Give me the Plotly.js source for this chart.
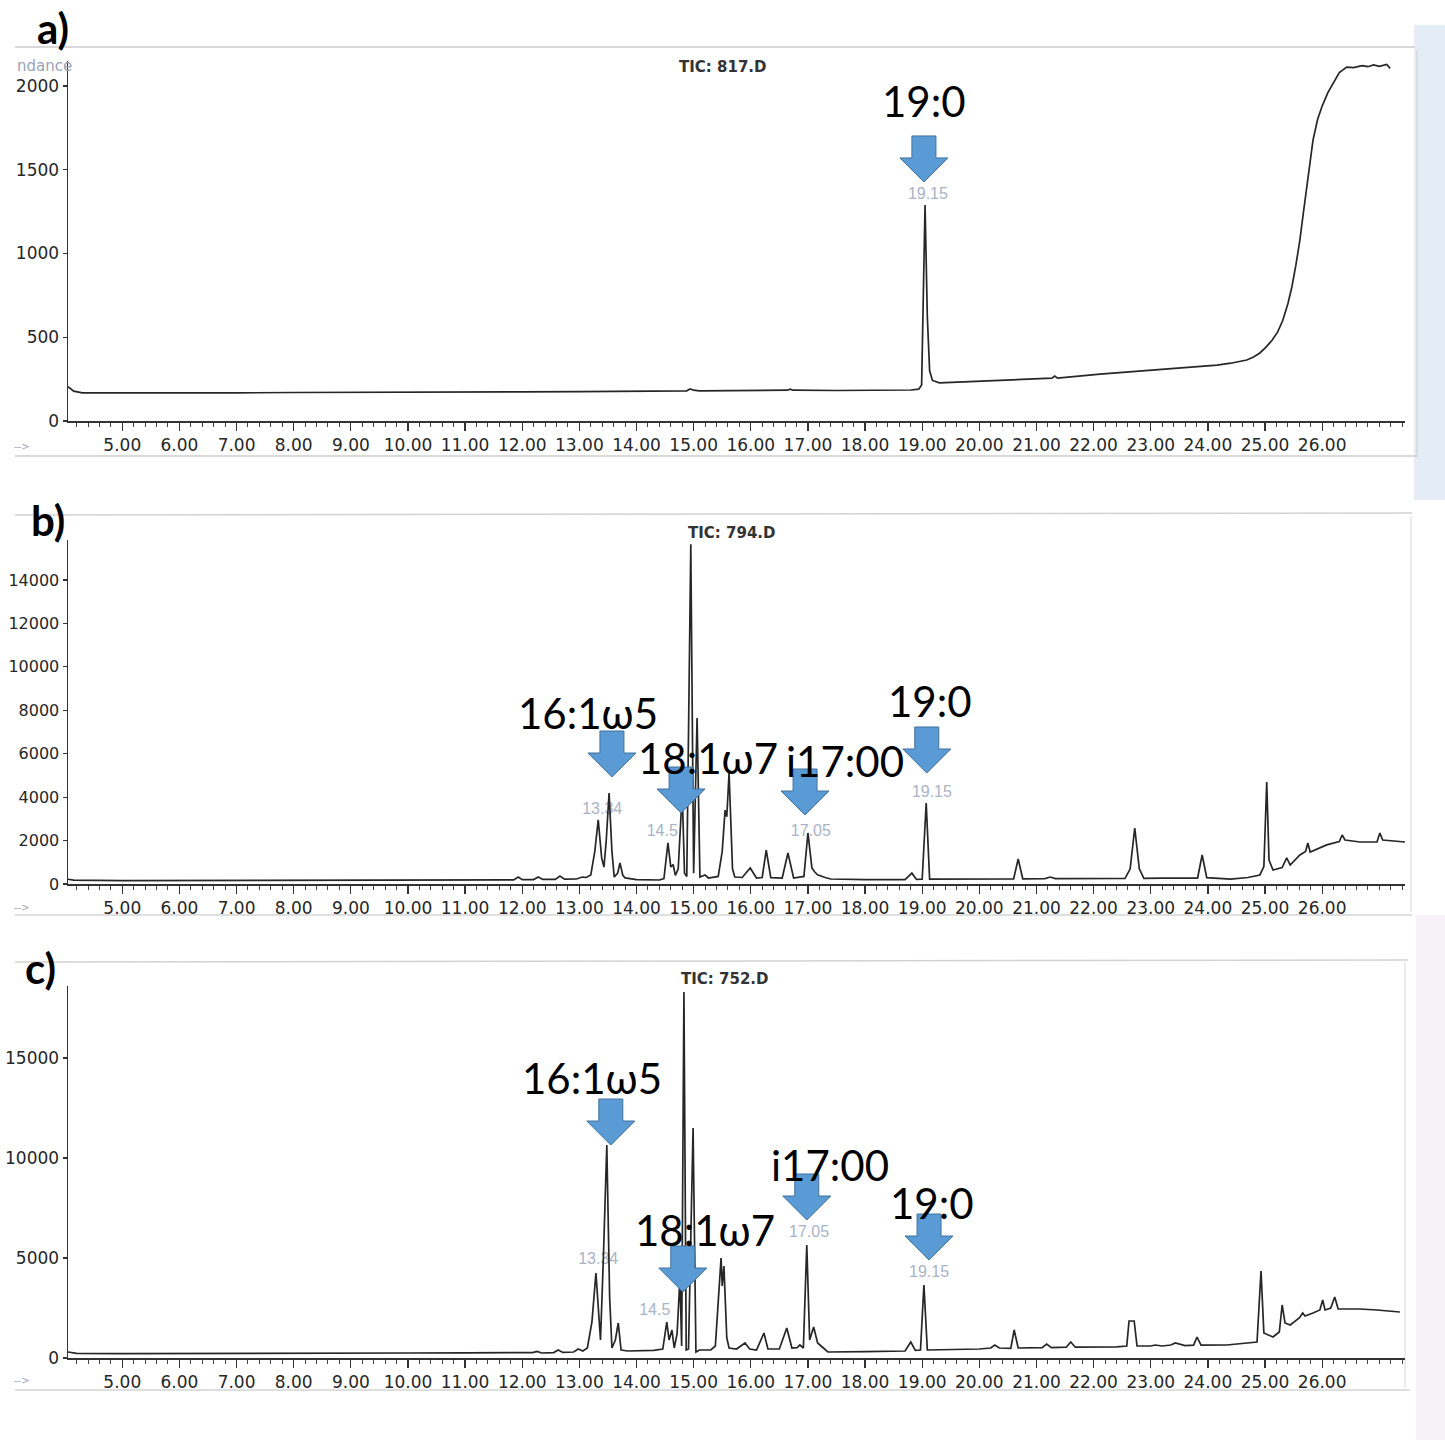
<!DOCTYPE html>
<html>
<head>
<meta charset="utf-8">
<script src="https://cdn.plot.ly/plotly-3.0.1.min.js"></script>
<style>html,body{margin:0;padding:0;background:#fff;}#chart{width:1445px;height:1440px;}</style>
</head>
<body>
<div id="chart"></div>
<script>
// ---------- DATA ----------
// [retention time (min), abundance]
const pointsA = [[4.05,205],[4.15,178],[4.3,168],[5,167],[6,168],[7,168],[8,170],[9,170],[10,172],[11,172],[12,174],[13,175],[14,178],[14.88,180],[14.94,192],[15.0,184],[15.1,180],[16,182],[16.64,184],[16.69,190],[16.74,184],[17.5,182],[18,183],[18.8,185],[18.94,190],[18.99,215],[19.05,1290],[19.09,620],[19.13,300],[19.18,242],[19.3,228],[20,238],[20.36,245],[21,250],[21.27,256],[21.32,268],[21.37,256],[22.11,280],[22.6,292],[23.11,304],[23.6,318],[24.16,334],[24.4,345],[24.68,364],[24.8,382],[24.91,406],[25.0,435],[25.12,480],[25.22,530],[25.31,600],[25.4,700],[25.47,800],[25.54,930],[25.61,1080],[25.67,1240],[25.73,1400],[25.79,1550],[25.84,1677],[25.92,1800],[26.0,1880],[26.1,1960],[26.19,2018],[26.3,2080],[26.43,2113],[26.55,2110],[26.7,2121],[26.8,2115],[26.9,2126],[27.0,2117],[27.13,2128],[27.19,2105]];

const pointsB = [[4.05,220],[4.15,180],[5,160],[6,162],[7,165],[8,166],[9,170],[10,170],[11,175],[11.6,180],[11.85,190],[11.93,320],[12.0,200],[12.2,205],[12.28,320],[12.36,210],[12.58,215],[12.66,370],[12.74,225],[12.95,230],[13.05,320],[13.12,300],[13.2,415],[13.27,1500],[13.33,2950],[13.39,1200],[13.43,780],[13.47,2000],[13.52,4190],[13.57,1500],[13.61,320],[13.67,500],[13.71,970],[13.76,400],[13.8,280],[14.0,200],[14.4,184],[14.48,250],[14.55,1890],[14.6,780],[14.64,900],[14.68,400],[14.73,700],[14.8,4200],[14.84,500],[14.88,350],[14.95,15650],[15.0,500],[15.06,7640],[15.11,320],[15.2,415],[15.26,276],[15.35,300],[15.43,350],[15.5,1500],[15.55,3400],[15.58,3100],[15.62,5110],[15.68,700],[15.72,320],[15.85,300],[15.99,740],[16.1,276],[16.2,300],[16.27,1565],[16.35,290],[16.55,276],[16.65,1430],[16.75,276],[16.93,350],[17.0,2350],[17.07,740],[17.12,550],[17.17,420],[17.3,300],[17.4,230],[18.0,200],[18.7,200],[18.82,500],[18.9,210],[19.0,220],[19.07,3730],[19.13,220],[19.5,215],[20.0,220],[20.6,230],[20.68,1150],[20.76,240],[21.15,250],[21.24,320],[21.33,250],[22.0,250],[22.55,260],[22.64,700],[22.72,2580],[22.8,700],[22.88,260],[23.2,270],[23.5,260],[23.82,275],[23.9,1335],[23.98,290],[24.4,220],[24.7,300],[24.91,415],[24.98,800],[25.03,4700],[25.07,1105],[25.14,645],[25.3,760],[25.38,1200],[25.44,875],[25.61,1335],[25.71,1500],[25.75,1890],[25.79,1475],[26.08,1800],[26.3,1950],[26.35,2256],[26.4,2026],[26.66,1934],[26.96,1934],[27.01,2350],[27.06,2026],[27.45,1934]];

const pointsC = [[4.05,300],[4.2,230],[5,220],[6,220],[7,230],[8,232],[9,240],[10,250],[11,260],[11.8,280],[12.18,270],[12.26,330],[12.34,250],[12.55,270],[12.63,400],[12.71,280],[12.9,300],[12.98,450],[13.06,350],[13.14,500],[13.22,1800],[13.29,4250],[13.34,1800],[13.37,900],[13.42,5000],[13.48,10650],[13.53,3000],[13.57,500],[13.63,900],[13.68,1750],[13.73,400],[13.85,350],[14.3,380],[14.46,450],[14.53,1800],[14.57,900],[14.62,1400],[14.66,500],[14.71,1200],[14.76,4000],[14.79,600],[14.83,18300],[14.87,400],[14.91,450],[14.99,11500],[15.04,300],[15.1,400],[15.3,400],[15.38,600],[15.44,3000],[15.48,5000],[15.5,3600],[15.53,4600],[15.58,1000],[15.62,500],[15.75,450],[15.85,650],[15.9,750],[15.98,450],[16.1,400],[16.23,1250],[16.3,450],[16.5,450],[16.63,1500],[16.72,500],[16.81,520],[16.86,650],[16.92,500],[16.98,5650],[17.03,900],[17.1,1550],[17.17,750],[17.25,550],[17.35,300],[18.0,320],[18.7,350],[18.8,800],[18.88,380],[18.97,400],[19.03,3650],[19.09,400],[19.6,420],[20.0,450],[20.2,500],[20.27,650],[20.35,500],[20.55,480],[20.61,1400],[20.68,500],[21.1,520],[21.18,700],[21.26,520],[21.52,540],[21.6,800],[21.68,540],[22.4,560],[22.58,600],[22.62,1850],[22.71,1850],[22.76,600],[22.9,580],[23.0,600],[23.08,650],[23.2,600],[23.35,650],[23.43,750],[23.6,620],[23.75,640],[23.81,1050],[23.88,640],[24.33,650],[24.86,800],[24.93,4350],[24.98,1250],[25.14,1050],[25.25,1300],[25.3,2650],[25.35,1750],[25.44,1650],[25.6,2000],[25.66,2250],[25.7,2100],[25.84,2250],[25.96,2400],[26.01,2900],[26.05,2400],[26.15,2500],[26.22,3050],[26.28,2450],[26.66,2450],[26.96,2400],[27.36,2300]];

const xTickVals = [5,6,7,8,9,10,11,12,13,14,15,16,17,18,19,20,21,22,23,24,25,26];
const xTickText = ['5.00','6.00','7.00','8.00','9.00','10.00','11.00','12.00','13.00','14.00','15.00','16.00','17.00','18.00','19.00','20.00','21.00','22.00','23.00','24.00','25.00','26.00'];
const yTicksA = [0,500,1000,1500,2000];
const yTicksB = [0,2000,4000,6000,8000,10000,12000,14000];
const yTicksC = [0,5000,10000,15000];

const ticNames = ['TIC: 817.D','TIC: 794.D','TIC: 752.D'];
const panelLetters = ['a)','b)','c)'];

// compound labels (big black text) and arrows
const labelNamesA = ['19:0'];
const labelTimesA = [19.03];
const labelLevelsA = [1910];
const arrowTimesA = [19.03];
const arrowTipsA = [1427];

const labelNamesB = ['16:1ω5','18:1ω7','i17:00','19:0'];
const labelTimesB = [13.15,15.25,17.65,19.14];
const labelLevelsB = [7875,5802,5664,8427];
const arrowTimesB = [13.57,14.78,16.95,19.08];
const arrowTipsB = [4927,3270,3177,5112];

const labelNamesC = ['16:1ω5','18:1ω7','i17:00','19:0'];
const labelTimesC = [13.22,15.2,17.39,19.17];
const labelLevelsC = [14000,6400,9650,7750];
const arrowTimesC = [13.55,14.81,16.98,19.12];
const arrowTipsC = [10650,3300,6900,4900];

// grey retention-time labels printed by the instrument
const peakTextA = ['19.15'];
const peakTimesA = [19.1];
const peakLevelsA = [1349];
const peakTextB = ['13.34','14.5','17.05','19.15'];
const peakTimesB = [13.4,14.45,17.05,19.17];
const peakLevelsB = [3408,2395,2395,4190];
const peakTextC = ['13.34','14.5','17.05','19.15'];
const peakTimesC = [13.33,14.32,17.02,19.12];
const peakLevelsC = [4900,2350,6250,4250];

// ---------- LAYOUT / STYLE ----------
const W = 1445, H = 1440;
const fx = p => p / W;
const fy = p => 1 - p / H;

const panels = [
  {pts: pointsA, yt: yTicksA, top: 61,  bottom: 421,  ymax: 2149,
   ln: labelNamesA, lt: labelTimesA, ll: labelLevelsA, at: arrowTimesA, ap: arrowTipsA,
   pt: peakTextA, ptt: peakTimesA, ptl: peakLevelsA, tic: [723, 67], letter: [53, 28], foot: 446},
  {pts: pointsB, yt: yTicksB, top: 540, bottom: 884,  ymax: 15841,
   ln: labelNamesB, lt: labelTimesB, ll: labelLevelsB, at: arrowTimesB, ap: arrowTipsB,
   pt: peakTextB, ptt: peakTimesB, ptl: peakLevelsB, tic: [732, 533], letter: [48, 520], foot: 907},
  {pts: pointsC, yt: yTicksC, top: 986, bottom: 1358, ymax: 18600,
   ln: labelNamesC, lt: labelTimesC, ll: labelLevelsC, at: arrowTimesC, ap: arrowTipsC,
   pt: peakTextC, ptt: peakTimesC, ptl: peakLevelsC, tic: [725, 979], letter: [40, 968], foot: 1380}
];

const arrowPath = 'M0,0 L-24,24 L-12,24 L-12,46 L12,46 L12,24 L24,24 Z';
const tickFont = {family: 'DejaVu Sans', size: 17, color: '#262626'};

const data = [];
const layout = {
  width: W, height: H,
  margin: {l: 0, r: 0, t: 0, b: 0},
  paper_bgcolor: '#ffffff', plot_bgcolor: '#ffffff',
  showlegend: false,
  font: {family: 'DejaVu Sans', color: '#222'},
  annotations: [], shapes: []
};

panels.forEach((p, i) => {
  const sfx = i === 0 ? '' : String(i + 1);
  const xr = 'x' + sfx, yr = 'y' + sfx;
  // grey instrument labels (below the trace)
  data.push({
    type: 'scatter', mode: 'text', x: p.ptt, y: p.ptl, text: p.pt,
    xaxis: xr, yaxis: yr, hoverinfo: 'skip',
    textfont: {family: 'Liberation Sans', size: 16, color: '#a9b3c6'}
  });
  // chromatogram trace
  data.push({
    type: 'scatter', mode: 'lines',
    x: p.pts.map(d => d[0]), y: p.pts.map(d => d[1]),
    xaxis: xr, yaxis: yr,
    line: {color: '#262626', width: 1.7}
  });
  layout['xaxis' + sfx] = {
    domain: [fx(68), fx(1405)], range: [4.05, 27.45], anchor: yr,
    tickmode: 'array', tickvals: xTickVals, ticktext: xTickText, tickangle: 0,
    ticks: 'outside', ticklen: 8, tickwidth: 1.3, tickcolor: '#333',
    minor: {tickmode: 'linear', tick0: 0, dtick: 0.2, ticks: 'outside', ticklen: 4, tickwidth: 1, tickcolor: '#444'},
    showline: true, linecolor: '#333', linewidth: 1.5,
    showgrid: false, zeroline: false, tickfont: tickFont, fixedrange: true
  };
  layout['yaxis' + sfx] = {
    domain: [fy(p.bottom), fy(p.top)], range: [0, p.ymax], anchor: xr,
    tickmode: 'array', tickvals: p.yt, ticktext: p.yt.map(String),
    ticks: 'outside', ticklen: 4, tickwidth: 1.2, tickcolor: '#333',
    showline: true, linecolor: '#333', linewidth: 1.5,
    showgrid: false, zeroline: false,
    tickfont: {family: 'DejaVu Sans', size: i === 1 ? 16 : 17, color: '#262626'}, fixedrange: true
  };
  // blue block arrows anchored at the peak they point to
  p.at.forEach((t, k) => {
    layout.shapes.push({
      type: 'path', xref: xr, yref: yr, xsizemode: 'pixel', ysizemode: 'pixel',
      xanchor: t, yanchor: p.ap[k], path: arrowPath,
      fillcolor: '#5B9BD5', line: {color: '#41719C', width: 1}, layer: 'above'
    });
  });
  // compound names
  p.ln.forEach((name, k) => {
    layout.annotations.push({
      xref: xr, yref: yr, x: p.lt[k], y: p.ll[k], text: name, showarrow: false,
      xanchor: 'center', yanchor: 'middle',
      font: {family: 'Lato, Noto Sans, sans-serif', size: 42, color: '#000'}
    });
  });
  // TIC file name
  layout.annotations.push({
    xref: 'paper', yref: 'paper', x: fx(p.tic[0]), y: fy(p.tic[1]),
    text: '<b>' + ticNames[i] + '</b>', showarrow: false, xanchor: 'center', yanchor: 'middle',
    font: {family: 'DejaVu Sans', size: 15, color: '#333'}
  });
  // panel letter
  layout.annotations.push({
    xref: 'paper', yref: 'paper', x: fx(p.letter[0]), y: fy(p.letter[1]),
    text: '<b>' + panelLetters[i] + '</b>', showarrow: false, xanchor: 'center', yanchor: 'middle',
    font: {family: 'Lato, sans-serif', size: 42, color: '#000'}
  });
  // "time -->" residue at lower left
  layout.annotations.push({
    xref: 'paper', yref: 'paper', x: fx(22), y: fy(p.foot),
    text: '-->', showarrow: false, xanchor: 'center', yanchor: 'middle',
    font: {family: 'DejaVu Sans', size: 10, color: '#a0a8b8'}
  });
});

// partially cut "Abundance" label on panel a
layout.annotations.push({
  xref: 'paper', yref: 'paper', x: fx(44), y: fy(66), text: 'ndance', showarrow: false,
  xanchor: 'center', yanchor: 'middle', font: {family: 'DejaVu Sans', size: 15, color: '#98a3b8'}
});

// faint scan frame lines and tinted strips
const frame = (x0, y0, x1, y1, c, w) => ({type: 'line', xref: 'paper', yref: 'paper',
  x0: fx(x0), y0: fy(y0), x1: fx(x1), y1: fy(y1), line: {color: c, width: w}, layer: 'below'});
const rect = (x0, y0, x1, y1, c) => ({type: 'rect', xref: 'paper', yref: 'paper',
  x0: fx(x0), y0: fy(y0), x1: fx(x1), y1: fy(y1), fillcolor: c, line: {width: 0}, layer: 'below'});
layout.shapes.push(
  rect(1414, 25, 1445, 500, 'rgba(196,216,232,0.45)'),
  rect(1416, 915, 1445, 1440, 'rgba(238,230,242,0.5)'),
  frame(15, 47, 1415, 47, '#cccccc', 1.5),
  frame(15, 456, 1418, 456, '#cccccc', 1.5),
  frame(1417, 50, 1417, 455, '#d8d8d8', 1.5),
  frame(15, 515, 1412, 513, '#d2d2d2', 1.5),
  frame(15, 915, 1412, 915, '#d4d4d4', 1.5),
  frame(1411, 516, 1411, 912, '#e0e0e0', 1.2),
  frame(15, 962, 1408, 960, '#d2d2d2', 1.5),
  frame(15, 1390, 1410, 1390, '#d4d4d4', 1.5),
  frame(1405, 962, 1405, 1388, '#e0e0e0', 1.2)
);

Plotly.newPlot('chart', data, layout, {displayModeBar: false, staticPlot: true});
</script>
</body>
</html>
